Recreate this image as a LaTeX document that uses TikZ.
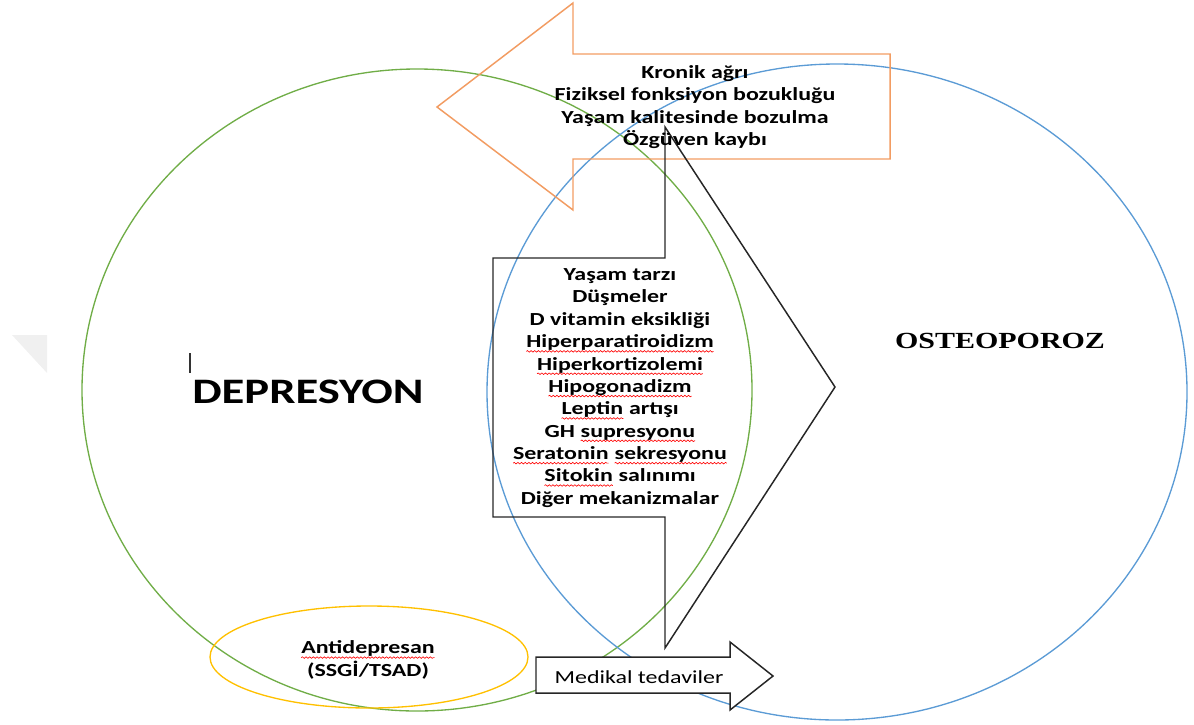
\documentclass[tikz,border=0pt]{standalone}
\usepackage{fontspec}
\usetikzlibrary{decorations.pathmorphing}
\newfontfamily\calfont[FakeStretch=1.3]{Carlito}
\newfontfamily\timesfont[FakeStretch=1.3]{Liberation Serif}
\newcommand\redwave[1]{\tikz[baseline=(w.base)]{\node[inner sep=0pt, outer sep=0pt](w){#1};\draw[red, line width=0.45pt, decorate, decoration={snake, amplitude=0.55pt, segment length=2.6pt}] ([yshift=-2.6pt]w.base west) -- ([yshift=-2.6pt]w.base east);}}
\definecolor{cgreen}{HTML}{70AD47}
\definecolor{cblue}{HTML}{5B9BD5}
\definecolor{corange}{HTML}{F29C62}
\definecolor{cyellow}{HTML}{FFC000}
\begin{document}
\begin{tikzpicture}[x=0.025cm,y=-0.025cm, line join=miter,
  ring/.style={line width=0.95pt},
  blockarrow/.style={line width=1.05pt},
  lbl/.style={font=\calfont\bfseries\fontsize{13.1}{15.9}\selectfont, align=center, inner sep=0pt},
]
\useasboundingbox (0,0) rectangle (1194,724);
% faint watermark corner
\fill[gray!12] (12,335) -- (47,335) -- (47,373) -- cycle;
% circles
\draw[ring, cgreen] (417,390) ellipse [x radius=335, y radius=321];
\draw[ring, cblue] (837,392) ellipse [x radius=350, y radius=328];
\draw[ring, cyellow] (369,657) ellipse [x radius=159, y radius=51];
% orange left arrow
\draw[blockarrow, corange] (437,107) -- (573,3) -- (573,54) -- (890,54) -- (890,159) -- (573,159) -- (573,210) -- cycle;
% black right arrow
\draw[blockarrow, black!85] (493,258) -- (665,258) -- (665,127) -- (835,387) -- (665,648) -- (665,517) -- (493,517) -- cycle;
% medical arrow
\draw[blockarrow, black!85, fill=white] (536,657) -- (730,657) -- (730,642) -- (773,676) -- (730,710) -- (730,693) -- (536,693) -- cycle;
% cursor mark
\draw[black!80, line width=0.8pt] (190,353) -- (190,373);
% texts
\node[lbl] (effects) at (695,107) {Kronik ağrı\\Fiziksel fonksiyon bozukluğu\\Yaşam kalitesinde bozulma\\Özgüven kaybı};
\node[lbl] (mech) at (620,388) {Yaşam tarzı\\Düşmeler\\D vitamin eksikliği\\\redwave{Hiperparatiroidizm}\\\redwave{Hiperkortizolemi}\\\redwave{Hipogonadizm}\\\redwave{Leptin} artışı\\GH \redwave{supresyonu}\\\redwave{Seratonin} \redwave{sekresyonu}\\\redwave{Sitokin} salınımı\\Diğer mekanizmalar};
\node[lbl] (anti) at (368,660) {\redwave{Antidepresan}\\(SSGİ/TSAD)};
\node[font=\calfont\fontsize{13.1}{15.9}\selectfont, inner sep=0pt] (med) at (639,677) {Medikal tedaviler};
\node[font=\calfont\bfseries\fontsize{25.5}{30}\selectfont, inner sep=0pt] (dep) at (308,392) {DEPRESYON};
\node[font=\timesfont\bfseries\fontsize{16.4}{20}\selectfont, inner sep=0pt] (ost) at (1000,341) {OSTEOPOROZ};
\end{tikzpicture}
\end{document}
